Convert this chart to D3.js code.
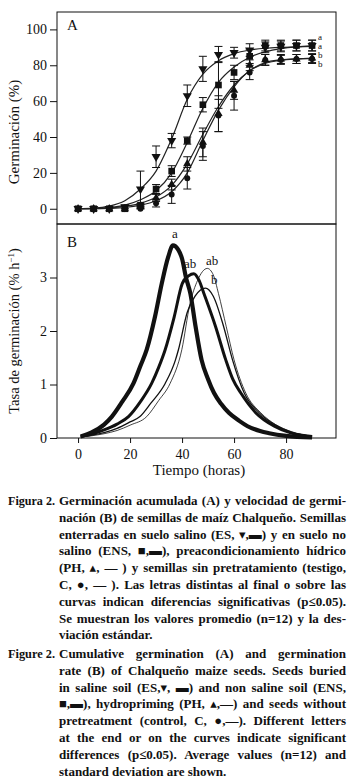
<!DOCTYPE html>
<html>
<head>
<meta charset="utf-8">
<script src="https://cdn.jsdelivr.net/npm/d3@7"></script>
<style>
body { margin: 0; background: #fff; }
svg text { font-family: "Liberation Serif", "DejaVu Serif", serif; fill: #111; }
</style>
</head>
<body>
<svg id="drawing_region"></svg>
<script>
// sampling times (h) of panel A
const times = [0, 6, 12, 18, 24, 30, 36, 42, 48, 54, 60, 66, 72, 78, 84, 90];

// cumulative germination (%) mean and sd
const esMean  = [0, 0, 0, 1, 11, 29, 38, 63, 78, 86, 87, 88.5, 90, 90.5, 91, 91];
const esSd    = [0, 0, 0, 1, 10, 6, 4, 6, 7, 4.5, 3, 3.5, 3, 3, 3, 3];
const ensMean = [0, 0, 0, 0, 2, 11, 21, 38, 58, 69, 76, 85, 91, 91, 91, 91];
const ensSd   = [0, 0, 0, 0, 1, 2.5, 3, 2, 4, 13, 4, 4, 3, 3, 3, 3];
const phMean  = [0, 0, 0, 0, 1, 6, 13.5, 25, 37, 53, 66, 80, 83, 83.5, 83.5, 84];
const phSd    = [0, 0, 0, 0, 1, 2, 3, 4, 8, 10, 5, 3, 3, 2.5, 2.5, 2.5];
const cMean   = [0, 0, 0, 0, 0, 3, 8, 17, 35, 52, 63, 76, 83, 83, 83.5, 83.5];
const cSd     = [0, 0, 0, 0, 0, 2, 5, 6, 8, 9, 8, 4, 3, 2.5, 2.5, 2.5];

// fitted curves of panel A, read at the same times
const esFit  = [0, 0.3, 1.5, 4.5, 11, 21, 39, 61, 75, 82.5, 86.5, 88.5, 89.5, 90, 90.3, 90.5];
const ensFit = [0, 0.1, 0.6, 2, 5, 10, 20, 37, 56, 70.5, 79, 84.5, 87.5, 89.3, 90.3, 90.8];
const phFit  = [0, 0.1, 0.5, 1.3, 3, 6.5, 13, 25, 41.5, 57, 69, 77, 81, 82.8, 83.5, 83.8];
const cFit   = [0, 0, 0.2, 0.7, 2, 4.5, 9.5, 20, 38, 55, 68, 77, 81.5, 83, 83.6, 83.8];

// germination rate (% h-1) curves of panel B
const esRateT  = [1, 5, 10, 13, 17, 21.3, 24, 26.4, 29.6, 32.2, 34.7, 36.5, 38.5, 40, 41.5, 43.2, 45.2, 47.5, 50, 52.3, 55, 58, 62, 65.2, 70, 73.5, 80, 90];
const esRate   = [0.03, 0.1, 0.25, 0.4, 0.68, 1.02, 1.35, 1.65, 2.27, 2.89, 3.39, 3.6, 3.52, 3.35, 3.0, 2.7, 2.08, 1.46, 1.1, 0.84, 0.64, 0.47, 0.32, 0.22, 0.13, 0.09, 0.04, 0.01];
const ensRateT = [1, 5, 10, 15, 19.4, 24, 28.3, 31, 33.5, 37, 40.1, 42.5, 44.5, 46.5, 48.4, 52.9, 56.8, 59.5, 62.6, 68.4, 75.5, 82, 90];
const ensRate  = [0.03, 0.07, 0.15, 0.26, 0.4, 0.68, 1.02, 1.32, 1.65, 2.27, 2.89, 3.03, 3.07, 2.95, 2.7, 2.08, 1.46, 1.1, 0.84, 0.47, 0.22, 0.09, 0.03];
const phRateT  = [1, 5, 10, 15, 20, 23.8, 28, 33.5, 37.4, 38.6, 42, 45, 49, 52, 56, 59.4, 63.9, 69.7, 76, 82, 90];
const phRate   = [0.02, 0.05, 0.1, 0.18, 0.3, 0.4, 0.65, 1.02, 1.45, 1.65, 2.35, 2.65, 2.8, 2.65, 2.08, 1.46, 0.84, 0.47, 0.24, 0.11, 0.03];
const cRateT   = [1, 5, 10, 15, 20, 26.4, 31, 35.4, 39.9, 43, 46, 49.7, 52, 54, 57, 60, 64.5, 70.3, 76, 82, 90];
const cRate    = [0.02, 0.04, 0.08, 0.14, 0.24, 0.4, 0.7, 1.02, 1.65, 2.5, 2.95, 3.17, 3.05, 2.7, 2.08, 1.46, 0.84, 0.47, 0.25, 0.12, 0.03];

// ticks and significance letters
const xTicks  = [0, 20, 40, 60, 80];
const yTicksA = [0, 20, 40, 60, 80, 100];
const yTicksB = [0, 1, 2, 3];
const lettersA = ['a', 'a', 'b', 'b'];
const lettersB = ['a', 'ab', 'ab', 'b'];

// caption text
const captionEs = [
    'Germinación acumulada (A) y velocidad de germi-',
    'nación (B) de semillas de maíz Chalqueño. Semillas',
    'enterradas en suelo salino (ES, ▾,▬) y en suelo no',
    'salino (ENS, ■,▬), preacondicionamiento hídrico',
    '(PH, ▴, — ) y semillas sin pretratamiento (testigo,',
    'C, ●, — ). Las letras distintas al final o sobre las',
    'curvas indican diferencias significativas (p≤0.05).',
    'Se muestran los valores promedio (n=12) y la des-',
    'viación estándar.'
];
const captionEn = [
    'Cumulative germination (A) and germination',
    'rate (B) of Chalqueño maize seeds. Seeds buried',
    'in saline soil (ES,▾, ▬) and non saline soil (ENS,',
    '■,▬), hydropriming (PH, ▴,—) and seeds without',
    'pretreatment (control, C, ●,—). Different letters',
    'at the end or on the curves indicate significant',
    'differences (p≤0.05). Average values (n=12) and',
    'standard deviation are shown.'
];

const W = 354, H = 780;
const left = 57, right = 336, topA = 12, midY = 224, bottomB = 438;

const svg = d3.select('#drawing_region')
    .attr('width', W)
    .attr('height', H);

const xscale = d3.scaleLinear().domain([-8.1, 99.2]).range([left, right]);
const yscaleA = d3.scaleLinear().domain([-8.5, 109.7]).range([midY, topA]);
const yscaleB = d3.scaleLinear().domain([0, 4]).range([bottomB, midY]);

const series = [
    { mean: esMean,  sd: esSd,  fit: esFit,  rt: esRateT,  rv: esRate,  sym: d3.symbolTriangle, rot: 180, size: 36, width: 4.2 },
    { mean: ensMean, sd: ensSd, fit: ensFit, rt: ensRateT, rv: ensRate, sym: d3.symbolSquare,   rot: 0,   size: 44, width: 3.0 },
    { mean: phMean,  sd: phSd,  fit: phFit,  rt: phRateT,  rv: phRate,  sym: d3.symbolTriangle, rot: 0,   size: 30, width: 1.3 },
    { mean: cMean,   sd: cSd,   fit: cFit,   rt: cRateT,   rv: cRate,   sym: d3.symbolCircle,   rot: 0,   size: 28, width: 0.8 }
];

// ---- panel A ----
const chartA = svg.append('g');

const fitLine = d3.line()
    .x((d, i) => xscale(times[i]))
    .y(d => yscaleA(d))
    .curve(d3.curveMonotoneX);

series.forEach(s => {
    chartA.append('path')
        .attr('d', fitLine(s.fit))
        .attr('fill', 'none')
        .attr('stroke', '#222')
        .attr('stroke-width', 1.2);
});

series.forEach(s => {
    const g = chartA.append('g');
    const pts = times.map((t, i) => ({ t: t, m: s.mean[i], sd: s.sd[i] }));
    const bars = pts.filter(d => d.sd > 0);
    g.selectAll('line.bar')
        .data(bars)
        .join('line')
        .attr('x1', d => xscale(d.t)).attr('x2', d => xscale(d.t))
        .attr('y1', d => yscaleA(d.m - d.sd)).attr('y2', d => yscaleA(d.m + d.sd))
        .attr('stroke', '#111').attr('stroke-width', 1);
    [-1, 1].forEach(k => {
        g.selectAll(null)
            .data(bars)
            .join('line')
            .attr('x1', d => xscale(d.t) - 4).attr('x2', d => xscale(d.t) + 4)
            .attr('y1', d => yscaleA(d.m + k * d.sd)).attr('y2', d => yscaleA(d.m + k * d.sd))
            .attr('stroke', '#111').attr('stroke-width', 1);
    });
    g.selectAll('path')
        .data(pts)
        .join('path')
        .attr('d', d3.symbol().type(s.sym).size(s.size))
        .attr('transform', d => `translate(${xscale(d.t)},${yscaleA(d.m)}) rotate(${s.rot})`)
        .attr('fill', '#111');
});

const yaxisA = d3.axisLeft(yscaleA).tickValues(yTicksA).tickSize(7).tickPadding(3);
const yaxisA_group = svg.append('g')
    .attr('transform', `translate(${left},0)`)
    .call(yaxisA);
yaxisA_group.select('.domain').remove();
yaxisA_group.selectAll('text').attr('font-size', 14);
yaxisA_group.selectAll('line').attr('stroke', '#111');

chartA.append('text')
    .attr('x', 67).attr('y', 30)
    .attr('font-size', 15)
    .text('A');

const endLetterY = [40, 48.5, 58, 66.5];
chartA.selectAll('text.lett')
    .data(lettersA)
    .join('text')
    .attr('x', 318)
    .attr('y', (d, i) => endLetterY[i])
    .attr('font-size', 9)
    .text(d => d);

svg.append('text')
    .attr('transform', 'translate(19,132) rotate(-90)')
    .attr('text-anchor', 'middle')
    .attr('font-size', 15)
    .text('Germinación (%)');

// ---- panel B ----
const chartB = svg.append('g');

const rateLine = d3.line()
    .x(d => xscale(d[0]))
    .y(d => yscaleB(d[1]))
    .curve(d3.curveMonotoneX);

series.slice().reverse().forEach(s => {
    chartB.append('path')
        .attr('d', rateLine(s.rt.map((t, i) => [t, s.rv[i]])))
        .attr('fill', 'none')
        .attr('stroke', '#111')
        .attr('stroke-width', s.width)
        .attr('stroke-linejoin', 'round');
});

const peakLabel = [[172, 238], [184, 268], [206, 265], [211, 284]];
chartB.selectAll('text.peak')
    .data(lettersB)
    .join('text')
    .attr('x', (d, i) => peakLabel[i][0])
    .attr('y', (d, i) => peakLabel[i][1])
    .attr('font-size', 13)
    .text(d => d);

chartB.append('text')
    .attr('x', 67).attr('y', 247)
    .attr('font-size', 15)
    .text('B');

const yaxisB = d3.axisLeft(yscaleB).tickValues(yTicksB).tickSize(7).tickPadding(3).tickFormat(d3.format('d'));
const yaxisB_group = svg.append('g')
    .attr('transform', `translate(${left},0)`)
    .call(yaxisB);
yaxisB_group.select('.domain').remove();
yaxisB_group.selectAll('text').attr('font-size', 14);
yaxisB_group.selectAll('line').attr('stroke', '#111');

const xaxis = d3.axisBottom(xscale).tickValues(xTicks).tickSize(5).tickPadding(6);
const xaxis_group = svg.append('g')
    .attr('transform', `translate(0,${bottomB})`)
    .call(xaxis);
xaxis_group.select('.domain').remove();
xaxis_group.selectAll('text').attr('font-size', 14);
xaxis_group.selectAll('line').attr('stroke', '#111');

svg.append('text')
    .attr('x', 199).attr('y', 475)
    .attr('text-anchor', 'middle')
    .attr('font-size', 15)
    .text('Tiempo (horas)');

svg.append('text')
    .attr('transform', 'translate(19,331) rotate(-90)')
    .attr('text-anchor', 'middle')
    .attr('font-size', 14.5)
    .html('Tasa de germinación (% h<tspan dy="-5" font-size="9">−1</tspan><tspan dy="5">)</tspan>');

// frames
svg.append('rect')
    .attr('x', left).attr('y', topA).attr('width', right - left).attr('height', midY - topA)
    .attr('fill', 'none').attr('stroke', '#111').attr('stroke-width', 1);
svg.append('rect')
    .attr('x', left).attr('y', midY).attr('width', right - left).attr('height', bottomB - midY)
    .attr('fill', 'none').attr('stroke', '#111').attr('stroke-width', 1);

// ---- caption ----
function drawCaption(label, lines, y0) {
    const lh = 16.8, x0 = 59, x1 = 346;
    const lab = svg.append('text')
        .attr('x', 8).attr('y', y0)
        .attr('font-size', 13).attr('font-weight', 'bold')
        .text(label);
    // keep the label inside its hanging indent
    if (lab.node().getComputedTextLength() > x0 - 12) {
        lab.attr('textLength', x0 - 12).attr('lengthAdjust', 'spacingAndGlyphs');
    }
    lines.forEach((line, i) => {
        const t = svg.append('text')
            .attr('x', x0).attr('y', y0 + i * lh)
            .attr('font-size', 13).attr('font-weight', 'bold')
            .text(line);
        if (i < lines.length - 1) {
            const natural = t.node().getComputedTextLength();
            const gaps = line.split(' ').length - 1;
            if (gaps > 0) t.attr('word-spacing', (x1 - x0 - natural) / gaps);
        }
    });
}
drawCaption('Figura 2.', captionEs, 505);
drawCaption('Figure 2.', captionEn, 658);
</script>
</body>
</html>
